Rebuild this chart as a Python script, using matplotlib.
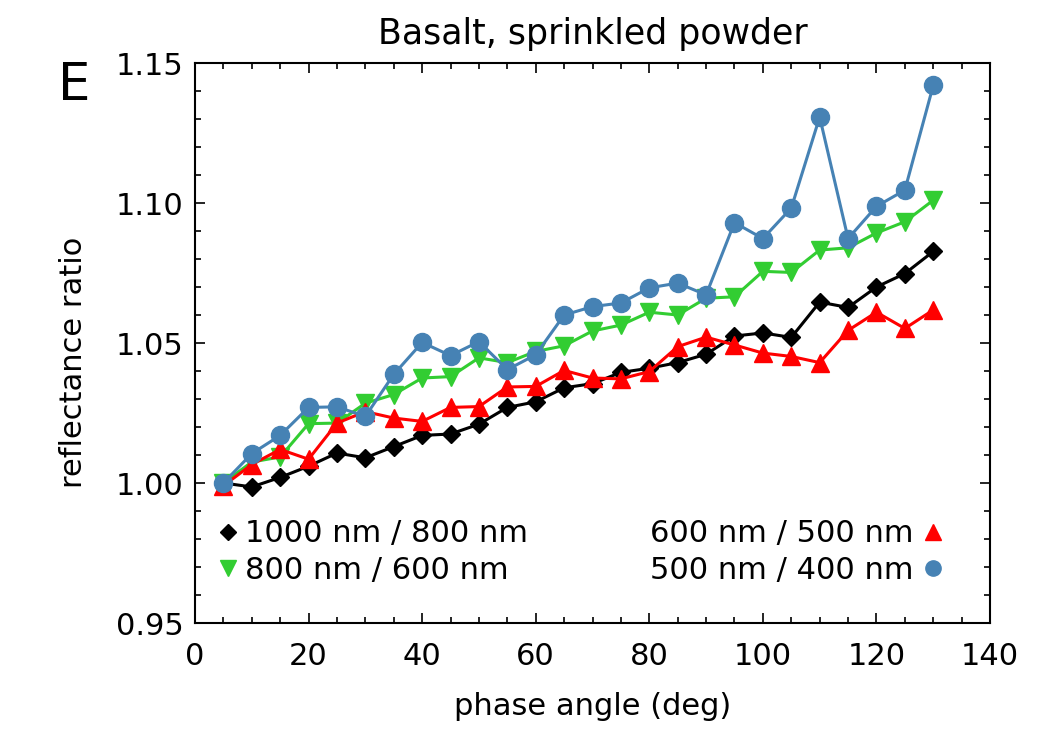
import numpy as np
import matplotlib.pyplot as plt
from matplotlib.lines import Line2D
from matplotlib.ticker import MultipleLocator

# phase angle (deg)
phase = [5, 10, 15, 20, 25, 30, 35, 40, 45, 50, 55, 60, 65,
         70, 75, 80, 85, 90, 95, 100, 105, 110, 115, 120, 125, 130]

# reflectance ratios
r1000_800 = [1.000, 0.9986, 1.002, 1.006, 1.0107, 1.009, 1.013, 1.017, 1.0175,
             1.021, 1.027, 1.029, 1.034, 1.0355, 1.0395, 1.041, 1.043, 1.046,
             1.0525, 1.0536, 1.052, 1.0646, 1.0627, 1.0700, 1.0748, 1.0827]
r800_600 = [1.000, 1.0075, 1.0093, 1.0212, 1.0214, 1.0285, 1.0316, 1.0375, 1.0380,
            1.0447, 1.0430, 1.0470, 1.0490, 1.0543, 1.0564, 1.0610, 1.0600, 1.0660,
            1.0665, 1.0756, 1.0752, 1.0832, 1.0840, 1.0893, 1.0933, 1.1010]
r600_500 = [0.999, 1.0066, 1.0120, 1.0085, 1.0214, 1.0255, 1.0232, 1.0220, 1.0270,
            1.0273, 1.0343, 1.0345, 1.0402, 1.0375, 1.0372, 1.0398, 1.0487, 1.0521,
            1.0493, 1.0464, 1.0452, 1.0430, 1.0545, 1.0610, 1.0552, 1.0618]
r500_400 = [1.000, 1.0105, 1.0170, 1.0270, 1.0272, 1.0238, 1.0388, 1.0502, 1.0455,
            1.0505, 1.0405, 1.0458, 1.0600, 1.0630, 1.0643, 1.0697, 1.0714, 1.0672,
            1.0930, 1.0873, 1.0982, 1.1307, 1.0873, 1.0988, 1.1046, 1.1420]

labels = ["1000 nm / 800 nm", "800 nm / 600 nm", "600 nm / 500 nm", "500 nm / 400 nm"]
colors = ["black", "#32cd32", "#ff0000", "#4682b4"]

plt.rcParams['font.family'] = 'DejaVu Sans'

fig = plt.figure(figsize=(10.5, 7.5), dpi=100)
ax = fig.add_axes([0.1857, 0.1693, 0.7572, 0.7467])

ax.plot(phase, r1000_800, color=colors[0], marker='D', ms=9, lw=2.2)
ax.plot(phase, r800_600, color=colors[1], marker='v', ms=13, lw=2.2)
ax.plot(phase, r600_500, color=colors[2], marker='^', ms=13, lw=2.2)
ax.plot(phase, r500_400, color=colors[3], marker='o', ms=13, lw=2.2)

ax.set_xlim(0, 140)
ax.set_ylim(0.95, 1.15)
ax.xaxis.set_major_locator(MultipleLocator(20))
ax.xaxis.set_minor_locator(MultipleLocator(5))
ax.yaxis.set_major_locator(MultipleLocator(0.05))
ax.yaxis.set_minor_locator(MultipleLocator(0.01))
ax.yaxis.set_major_formatter(plt.FormatStrFormatter('%.2f'))
ax.tick_params(which='both', direction='in', top=True, right=True, width=1.2,
               labelsize=22)
ax.tick_params(which='major', length=7.5)
ax.tick_params(which='minor', length=4)
ax.tick_params(axis='x', which='major', pad=14)
ax.tick_params(axis='y', which='major', pad=8)
for s in ax.spines.values():
    s.set_linewidth(1.5)

ax.set_xlabel("phase angle (deg)", fontsize=22)
ax.xaxis.set_label_coords(0.5, -0.123)
ax.set_ylabel("reflectance ratio", fontsize=22)
ax.yaxis.set_label_coords(-0.135, 0.466)
ax.set_title("Basalt, sprinkled powder", fontsize=25, pad=14)
fig.text(0.055, 0.8667, "E", fontsize=37, va='baseline')

# legend: left column markers first, right column markers last
h1 = [Line2D([], [], color=colors[0], marker='D', ms=8, ls='none'),
      Line2D([], [], color=colors[1], marker='v', ms=11, ls='none')]
h2 = [Line2D([], [], color=colors[2], marker='^', ms=11, ls='none'),
      Line2D([], [], color=colors[3], marker='o', ms=11, ls='none')]
leg1 = ax.legend(h1, labels[:2], loc='upper left', bbox_to_anchor=(0.03, 0.185),
                 frameon=False, fontsize=22, handlelength=0.6, handletextpad=0.25,
                 borderpad=0, borderaxespad=0, labelspacing=0.25)
ax.add_artist(leg1)
ax.legend(h2, labels[2:], loc='upper right', bbox_to_anchor=(0.94, 0.185),
          frameon=False, fontsize=22, handlelength=0.6, handletextpad=0.35,
          borderpad=0, borderaxespad=0, labelspacing=0.25, markerfirst=False)

plt.savefig("out.png", dpi=100)
